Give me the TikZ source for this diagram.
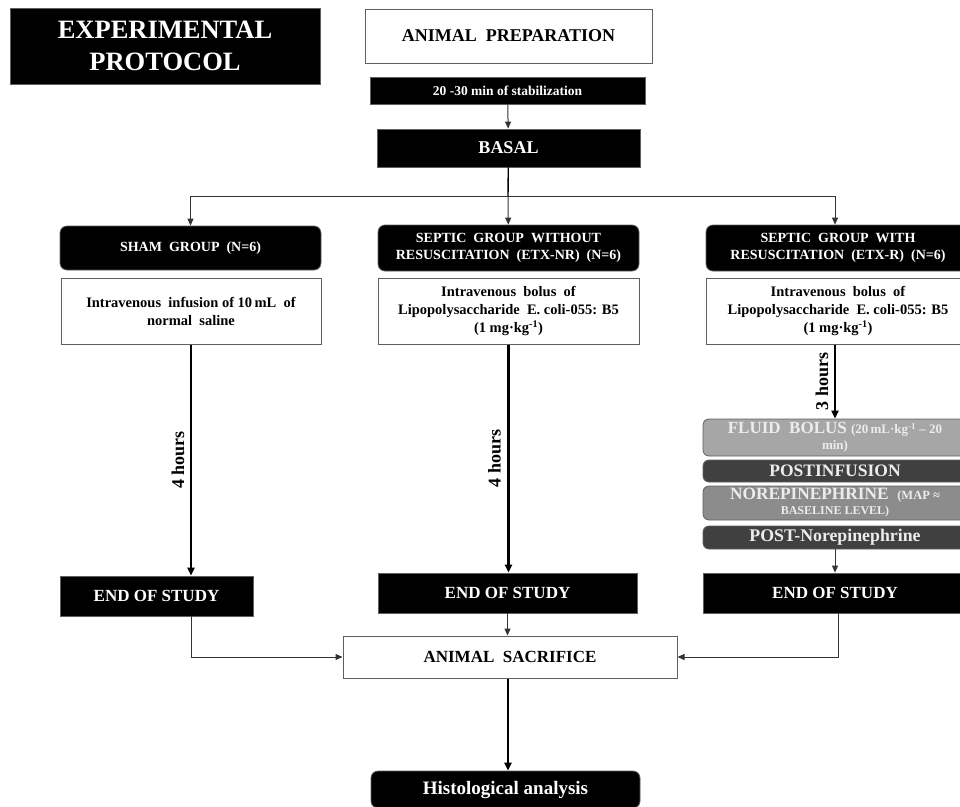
\documentclass[tikz,border=0pt]{standalone}
\usepackage{fontspec}
\setmainfont{Liberation Serif}
\usetikzlibrary{arrows.meta,positioning,calc}
\definecolor{LightGrey}{RGB}{166,166,166}
\definecolor{MidGrey}{RGB}{140,140,140}
\definecolor{DarkGrey}{RGB}{64,64,64}
\definecolor{EdgeGrey}{RGB}{95,95,95}
\definecolor{PaleText}{RGB}{236,236,236}
\tikzset{
  bbox/.style={draw=EdgeGrey,fill=black,text=white,font=\bfseries,
               align=center,inner sep=0pt,line width=0.8pt},
  wbox/.style={draw=EdgeGrey,fill=white,text=black,font=\bfseries,
               align=center,inner sep=0pt,line width=1pt},
  gbox/.style={bbox,rounded corners=7pt},
  sbox/.style={draw=EdgeGrey,text=PaleText,rounded corners=6pt,align=center,
               inner sep=0pt,minimum width=264pt,line width=0.8pt},
  arr/.style={-{Triangle[length=7pt,width=6pt]},line width=1pt,black!80},
  tarr/.style={-{Triangle[length=8pt,width=7pt]},line width=2.2pt,black},
  hrs/.style={rotate=90,font=\fontsize{18}{18}\selectfont\bfseries},
}

\begin{document}
\begin{tikzpicture}[
  x=1pt, y=-1pt,
  small/.style={font=\fontsize{14}{17}\selectfont\bfseries},
  mid/.style={font=\fontsize{14.5}{18}\selectfont\bfseries},
  big/.style={font=\fontsize{17}{19}\selectfont\bfseries}
]
\useasboundingbox (0,0) rectangle (960,806);

\node[bbox, minimum width=310pt, minimum height=76pt,
      font=\fontsize{26.5}{32}\selectfont\bfseries] (title) at (165,46) {EXPERIMENTAL\\PROTOCOL};
\node[wbox, font=\fontsize{18}{20}\selectfont\bfseries,
      minimum width=287pt, minimum height=54pt] (prep) at (508.5,36) {ANIMAL\ \ PREPARATION};
\node[bbox, font=\fontsize{13.5}{15}\selectfont\bfseries,
      minimum width=275pt, minimum height=27pt] (stab) at (507.5,90.5) {20 -30 min of stabilization};
\node[bbox, font=\fontsize{18}{20}\selectfont\bfseries,
      minimum width=263pt, minimum height=38pt] (basal) at (508.5,148) {BASAL};

\node[gbox, small, minimum width=261pt, minimum height=44pt] (sham) at (190.5,248) {SHAM\ \ GROUP\ \ (N=6)};
\node[gbox, small, minimum width=261pt, minimum height=46pt] (etxnr) at (508.5,248)
  {SEPTIC\ \ GROUP\ \ WITHOUT\\RESUSCITATION\ \ (ETX-NR)\ \ (N=6)};
\node[gbox, small, minimum width=264pt, minimum height=46pt] (etxr) at (838,248)
  {SEPTIC\ \ GROUP\ \ WITH\\RESUSCITATION\ \ (ETX-R)\ \ (N=6)};

\node[wbox, mid, minimum width=260pt, minimum height=66pt] (shamtx) at (191,311)
  {Intravenous\ \ infusion of 10\,mL\ \ of\\normal\ \ saline};
\node[wbox, mid, minimum width=261pt, minimum height=66pt] (nrtx) at (508.5,311)
  {Intravenous\ \ bolus\ \ of\\Lipopolysaccharide\ \ E. coli-055: B5\\(1 mg·kg\textsuperscript{-1})};
\node[wbox, mid, minimum width=264pt, minimum height=66pt] (rtx) at (838,311)
  {Intravenous\ \ bolus\ \ of\\Lipopolysaccharide\ \ E. coli-055: B5\\(1 mg·kg\textsuperscript{-1})};

\node[sbox, fill=LightGrey, minimum height=37pt, font=\fontsize{17}{19}\selectfont\bfseries] (fluid) at (835,437.5)
  {FLUID\ \ BOLUS {\fontsize{13}{15}\selectfont (20\,mL·kg\textsuperscript{-1} – 20}\\[-3pt]{\fontsize{13}{15}\selectfont min)}};
\node[sbox, fill=DarkGrey, minimum height=22pt, font=\fontsize{17.5}{19}\selectfont\bfseries] (postinf) at (835,471) {POSTINFUSION};
\node[sbox, fill=MidGrey, minimum height=34pt, font=\fontsize{17.3}{18}\selectfont\bfseries] (nore) at (835,503)
  {NOREPINEPHRINE\ \ {\fontsize{12.5}{14}\selectfont (MAP ≈}\\[-3pt]{\fontsize{12}{14}\selectfont BASELINE LEVEL)}};
\node[sbox, fill=DarkGrey, minimum height=23pt, font=\fontsize{17.8}{19}\selectfont\bfseries] (postnore) at (835,537.5) {POST-Norepinephrine};

\node[bbox, big, minimum width=193pt, minimum height=40pt] (endl) at (156.5,596) {END OF STUDY};
\node[bbox, big, minimum width=259pt, minimum height=40pt] (endm) at (507.5,593) {END OF STUDY};
\node[bbox, big, minimum width=264pt, minimum height=40pt] (endr) at (835,593) {END OF STUDY};

\node[wbox, big, minimum width=334pt, minimum height=42pt] (sacr) at (510,657) {ANIMAL\ \ SACRIFICE};
\node[gbox, font=\fontsize{19}{21}\selectfont\bfseries,
      minimum width=269pt, minimum height=37pt] (histo) at (505.5,789.5) {Histological analysis};

\coordinate (split) at (508,196);
\draw[arr] (stab) -- (basal);
\draw[line width=1.4pt] (basal) -- (split);
\draw[arr] (split) -- (etxnr);
\draw[arr] (split) -| (sham);
\draw[arr] (split) -| ([xshift=-3pt]etxr.north);

\draw[tarr] (shamtx.south) -- node[hrs, yshift=13pt]{4 hours} (shamtx.south |- endl.north);
\draw[tarr] (nrtx.south) -- node[hrs, yshift=14pt]{4 hours} (nrtx.south |- endm.north);
\draw[tarr] ([xshift=-3pt]rtx.south) -- node[hrs, yshift=13pt]{3 hours} ([xshift=-3pt]rtx.south |- fluid.north);
\draw[arr] (postnore) -- (endr);

\draw[arr] (shamtx.south |- endl.south) |- (sacr.west);
\draw[arr] (endm) -- (endm |- sacr.north);
\draw[arr] ([xshift=3pt]endr.south) |- (sacr.east);
\draw[tarr] (sacr.south -| split) -- (split |- histo.north);
\end{tikzpicture}
\end{document}
